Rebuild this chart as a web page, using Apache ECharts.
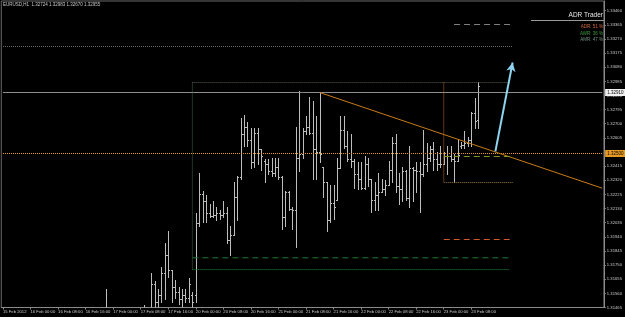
<!DOCTYPE html>
<html><head><meta charset="utf-8">
<script src="https://cdn.jsdelivr.net/npm/echarts@6/dist/echarts.min.js"></script>
<style>html,body{margin:0;padding:0;background:#000;}#c{width:625px;height:317px;}</style>
</head><body><div id="c"></div>
<script>
// ---- data ----
const headerText = 'EURUSD,H1  1.32724 1.32983 1.32670 1.32955';
const xTickLabels = ['15 Feb 2012','16 Feb 00:00','16 Feb 08:00','16 Feb 16:00','17 Feb 00:00','17 Feb 08:00','17 Feb 16:00','20 Feb 00:00','20 Feb 08:00','20 Feb 16:00','21 Feb 00:00','21 Feb 08:00','21 Feb 16:00','22 Feb 00:00','22 Feb 08:00','22 Feb 16:00','23 Feb 00:00','23 Feb 08:00'];
const yTicks = [1.31465,1.31560,1.31655,1.31750,1.31845,1.31940,1.32035,1.32130,1.32225,1.32320,1.32415,1.32510,1.32605,1.32700,1.32795,1.32890,1.32985,1.33080,1.33175,1.33270,1.33365,1.33460];
const emptySlots = 36; // chart shift area to the right of the last bar
// H1 bars [open, high, low, close]
const ohlc = [
[1.3118,1.3127,1.3110,1.3122],[1.3122,1.3130,1.3116,1.3125],[1.3125,1.3133,1.3119,1.3121],[1.3121,1.3126,1.3108,1.3112],
[1.3112,1.3119,1.3101,1.3105],[1.3105,1.3114,1.3098,1.3110],[1.3110,1.3118,1.3104,1.3107],[1.3107,1.3113,1.3095,1.3099],
[1.3099,1.3106,1.3090,1.3102],[1.3102,1.3109,1.3094,1.3096],[1.3096,1.3103,1.3085,1.3089],[1.3089,1.3097,1.3081,1.3093],
[1.3093,1.3100,1.3086,1.3091],[1.3091,1.3098,1.3083,1.3095],[1.3095,1.3104,1.3088,1.3101],[1.3101,1.3112,1.3096,1.3108],
[1.3108,1.3117,1.3100,1.3104],[1.3104,1.3110,1.3092,1.3097],[1.3097,1.3105,1.3087,1.3090],[1.3090,1.3099,1.3080,1.3084],
[1.3084,1.3093,1.3076,1.3088],[1.3088,1.3102,1.3083,1.3099],[1.3099,1.3110,1.3092,1.3106],[1.3106,1.3118,1.3101,1.3114],
[1.3114,1.3125,1.3108,1.3121],[1.3121,1.3130,1.3112,1.3117],[1.3117,1.3128,1.3110,1.3124],[1.3124,1.3136,1.3118,1.3131],
[1.3131,1.3140,1.3122,1.3126],[1.3126,1.3138,1.3119,1.3134],[1.3134,1.3159,1.3128,1.3137],[1.3137,1.3143,1.3125,1.3129],
[1.3129,1.3136,1.3117,1.3121],[1.3121,1.3131,1.3114,1.3126],[1.3126,1.3135,1.3119,1.3123],[1.3123,1.3132,1.3116,1.3128],
[1.3128,1.3139,1.3122,1.3134],[1.3134,1.3142,1.3127,1.3130],[1.3130,1.3141,1.3124,1.3137],[1.3137,1.3144,1.3129,1.3135],
[1.3135,1.3143,1.3128,1.3140],[1.3140,1.3148,1.3133,1.3144],[1.3144,1.3146,1.3134,1.3139],[1.3139,1.3170,1.3136,1.3162],
[1.3162,1.3164,1.3143,1.3150],[1.3150,1.3159,1.3138,1.3155],[1.3155,1.3174,1.3150,1.3170],[1.3170,1.3190,1.3152,1.3182],
[1.3182,1.3198,1.3167,1.3172],[1.3172,1.3172,1.3150,1.3160],[1.3160,1.3165,1.3153,1.3157],[1.3157,1.3160,1.3149,1.3152],
[1.3152,1.3159,1.3144,1.3155],[1.3155,1.3159,1.3150,1.3153],[1.3153,1.3166,1.3150,1.3162],[1.3155,1.3157,1.3145,1.3150],
[1.3155,1.3210,1.3150,1.3203],[1.3203,1.3237,1.3201,1.3223],[1.3223,1.3225,1.3204,1.3218],[1.3218,1.3222,1.3204,1.3210],
[1.3210,1.3216,1.3207,1.3208],[1.3208,1.3218,1.3207,1.3209],[1.3209,1.3214,1.3205,1.3210],[1.3210,1.3212,1.3206,1.3209],
[1.3209,1.3218,1.3207,1.3210],[1.3210,1.3214,1.3190,1.3192],[1.3192,1.3201,1.3182,1.3195],[1.3195,1.3231,1.3195,1.3221],
[1.3221,1.3235,1.3205,1.3234],[1.3234,1.3274,1.3233,1.3263],[1.3263,1.3276,1.3255,1.3268],[1.3268,1.3271,1.3255,1.3259],
[1.3259,1.3267,1.3240,1.3244],[1.3244,1.3267,1.3241,1.3264],[1.3264,1.3267,1.3243,1.3253],[1.3253,1.3253,1.3239,1.3248],
[1.3245,1.3246,1.3231,1.3243],[1.3243,1.3246,1.3236,1.3238],[1.3238,1.3247,1.3235,1.3237],[1.3237,1.3247,1.3235,1.3241],
[1.3241,1.3247,1.3233,1.3234],[1.3234,1.3235,1.3199,1.3207],[1.3207,1.3225,1.3201,1.3224],[1.3224,1.3225,1.3212,1.3213],
[1.3213,1.3214,1.3199,1.3212],[1.3212,1.3268,1.3187,1.3247],[1.3247,1.3292,1.3238,1.3250],[1.3250,1.3267,1.3247,1.3265],
[1.3265,1.3275,1.3263,1.3268],[1.3268,1.3288,1.3263,1.3264],[1.3264,1.3285,1.3233,1.3253],[1.3253,1.3275,1.3233,1.3251],
[1.3251,1.3291,1.3244,1.3250],[1.3241,1.3241,1.3221,1.3231],[1.3231,1.3231,1.3198,1.3205],[1.3205,1.3229,1.3204,1.3217],
[1.3217,1.3229,1.3206,1.3214],[1.3219,1.3247,1.3219,1.3240],[1.3240,1.3275,1.3240,1.3266],[1.3266,1.3275,1.3254,1.3255],
[1.3255,1.3265,1.3245,1.3246],[1.3246,1.3263,1.3241,1.3245],[1.3245,1.3246,1.3227,1.3236],[1.3236,1.3244,1.3226,1.3233],
[1.3233,1.3244,1.3226,1.3227],[1.3227,1.3248,1.3226,1.3243],[1.3243,1.3247,1.3228,1.3233],[1.3233,1.3233,1.3211,1.3219],
[1.3219,1.3231,1.3212,1.3222],[1.3222,1.3237,1.3212,1.3224],[1.3224,1.3233,1.3224,1.3226],[1.3226,1.3232,1.3222,1.3229],
[1.3229,1.3245,1.3229,1.3239],[1.3239,1.3261,1.3231,1.3257],[1.3257,1.3263,1.3224,1.3228],[1.3228,1.3237,1.3216,1.3226],
[1.3226,1.3241,1.3218,1.3238],[1.3238,1.3239,1.3219,1.3220],[1.3220,1.3255,1.3214,1.3240],[1.3240,1.3241,1.3218,1.3239],
[1.3239,1.3244,1.3224,1.3238],[1.3238,1.3244,1.3211,1.3236],[1.3236,1.3266,1.3235,1.3243],[1.3243,1.3257,1.3238,1.3247],
[1.3247,1.3255,1.3245,1.3253],[1.3253,1.3258,1.3239,1.3246],[1.3246,1.3251,1.3239,1.3243],[1.3243,1.3255,1.3241,1.3243],
[1.3243,1.3251,1.3243,1.3248],[1.3248,1.3255,1.3236,1.3248],[1.3248,1.3255,1.3245,1.3246],[1.3246,1.3250,1.3231,1.3245],
[1.3245,1.3259,1.3245,1.3249],[1.3255,1.3258,1.3254,1.3256],[1.3256,1.3265,1.3254,1.3257],[1.3257,1.3261,1.3255,1.3259],
[1.3259,1.3278,1.3255,1.3277],[1.3277,1.3287,1.3267,1.3272],[1.32724,1.32983,1.32670,1.32955]
];
// drawn objects (bar index, price)
const priceLine = 1.32910;
const orangeLevel = 1.32500;
const trendLine = [[92, 1.32910], [174, 1.32267]];
const arrowLine = [[143, 1.32514], [148, 1.33112]];
const boxLeft = 55, boxRight = 147, boxTop = 1.32977, boxBottom = 1.31720;
const greenDash = 1.31799;
const topDotted = [[0, 1.33219], [148, 1.33219]];
const topDash = [[131, 1.33367], [148, 1.33367]];
const zoneLeft = 128, zoneRight = 148, zoneBottom = 1.32305;
const oliveDash = 1.32480, redDash = 1.31922;
const adrStats = [['ADR: 51 %', '#d8683a'], ['AWR: 36 %', '#3f9c3f'], ['AMR: 47 %', '#6f9080']];

// ---- chart ----
const totalSlots = ohlc.length + emptySlots;
const lastSlot = totalSlots - 1;
const cats = Array.from({length: totalSlots}, (_, i) => i);
const seriesData = ohlc.map((d, i) => [i, d[0], d[1], d[2], d[3]]);
const FONT = 'Liberation Sans';
const barColor = '#bdbdbd';
const DOT = [1, 1];
const DASH = [6, 4];

function renderOHLC(params, api) {
  const i = api.value(0);
  const o = api.coord([i, api.value(1)]);
  const h = api.coord([i, api.value(2)]);
  const l = api.coord([i, api.value(3)]);
  const c = api.coord([i, api.value(4)]);
  const x = Math.round(o[0]) + 0.5;
  const style = {stroke: barColor, lineWidth: 1};
  const oy = Math.round(o[1]) + 0.5, cy = Math.round(c[1]) + 0.5;
  return {type: 'group', children: [
    {type: 'line', shape: {x1: x, y1: Math.round(h[1]), x2: x, y2: Math.round(l[1]) + 1}, style},
    {type: 'line', shape: {x1: x - 1.5, y1: oy, x2: x, y2: oy}, style},
    {type: 'line', shape: {x1: x, y1: cy, x2: x + 1.5, y2: cy}, style}
  ]};
}

function seg(a, b, color, type, extra) {
  return Object.assign({
    type: 'line', data: [a, b], symbol: 'none', silent: true, z: 3,
    lineStyle: {color, type, width: 1}, emphasis: {disabled: true}
  }, extra || {});
}
function axisTag(text, bg) {
  return {show: true, formatter: text, color: '#000', backgroundColor: bg, padding: [1, 2],
    fontSize: 4.5, fontFamily: FONT, distance: 3};
}

const lineSeries = [
  seg([0, priceLine], [lastSlot, priceLine], '#8e8e8e', 'solid', {endLabel: axisTag(priceLine.toFixed(5), '#f0f0f0')}),
  seg([0, orangeLevel], [lastSlot, orangeLevel], '#f09a1c', DOT, {endLabel: axisTag(orangeLevel.toFixed(5), '#e89a22')}),
  seg(topDotted[0], topDotted[1], '#6a6a6a', DOT),
  seg(topDash[0], topDash[1], '#808080', DASH),
  seg(trendLine[0], trendLine[1], '#c87d16', 'solid'),
  seg([boxLeft, boxTop], [boxRight, boxTop], '#5a6650', DOT),
  seg([boxLeft, boxTop], [boxLeft, boxBottom], '#3f6a48', DOT),
  seg([boxLeft, boxBottom], [boxRight, boxBottom], '#228a34', DOT),
  seg([boxLeft, greenDash], [boxRight, greenDash], '#1f7a2e', DASH),
  seg([zoneLeft, boxTop], [zoneLeft, zoneBottom], '#c06c1a', DOT),
  seg([zoneLeft, zoneBottom], [zoneRight, zoneBottom], '#9a7448', DOT),
  seg([zoneLeft, oliveDash], [zoneRight, oliveDash], '#8a9a22', DASH),
  seg([zoneLeft, redDash], [zoneRight, redDash], '#d4582a', DASH)
];

const graphics = [
  {type: 'text', x: 3, y: 5, style: {text: headerText, fill: '#c8c8c8', font: '4.5px "' + FONT + '"', verticalAlign: 'middle'}},
  {type: 'text', x: 603, y: 15.5, style: {text: 'ADR Trader', fill: '#e8e8e8', font: '6.5px "' + FONT + '"', align: 'right', verticalAlign: 'middle'}},
  {type: 'line', shape: {x1: 531, y1: 20.5, x2: 605, y2: 20.5}, style: {stroke: '#9a9a9a', lineWidth: 1}}
];
adrStats.forEach((s, k) => graphics.push({type: 'text', x: 603, y: 26.5 + k * 6.8,
  style: {text: s[0], fill: s[1], font: '4.5px "' + FONT + '"', align: 'right', verticalAlign: 'middle'}}));

const chart = echarts.init(document.getElementById('c'), null, {renderer: 'canvas'});
chart.setOption({
  backgroundColor: '#000',
  animation: false,
  grid: {left: 1, right: 19, top: 1, bottom: 9.5, show: true, borderColor: '#6a6a6a', borderWidth: 1},
  xAxis: {
    type: 'category', data: cats, boundaryGap: true,
    axisLine: {show: true, lineStyle: {color: '#8a8a8a'}},
    axisTick: {show: true, length: 2, alignWithLabel: true, interval: (i) => i % 8 === 0 && i <= 136, lineStyle: {color: '#8a8a8a'}},
    axisLabel: {show: true, interval: (i) => i % 8 === 0 && i <= 136, formatter: (v, i) => xTickLabels[Math.round(i / 8)] || '',
      align: 'left', margin: 2, fontSize: 4.2, color: '#c8c8c8', fontFamily: FONT},
    splitLine: {show: false}
  },
  yAxis: {
    type: 'value', position: 'right', min: 1.31465, max: 1.33525, scale: true,
    axisLine: {show: true, lineStyle: {color: '#8a8a8a'}},
    axisTick: {show: true, length: 2, customValues: yTicks, lineStyle: {color: '#8a8a8a'}},
    axisLabel: {show: true, customValues: yTicks, formatter: (v) => v.toFixed(5), margin: 3, fontSize: 4.2, color: '#c8c8c8', fontFamily: FONT},
    splitLine: {show: false}
  },
  graphic: graphics,
  series: [{
    type: 'custom', renderItem: renderOHLC, data: seriesData, clip: true, silent: true, z: 2,
    encode: {x: 0, y: [1, 2, 3, 4]},
    markLine: {silent: true, symbol: ['none', 'none'], precision: 5, label: {show: false}, emphasis: {disabled: true},
      data: [[{coord: arrowLine[0], symbol: 'none', lineStyle: {color: '#8fd4ee', width: 2, type: 'solid'}},
              {coord: arrowLine[1], symbol: 'arrow', symbolSize: [7, 9]}]]}
  }].concat(lineSeries)
});
</script></body></html>
